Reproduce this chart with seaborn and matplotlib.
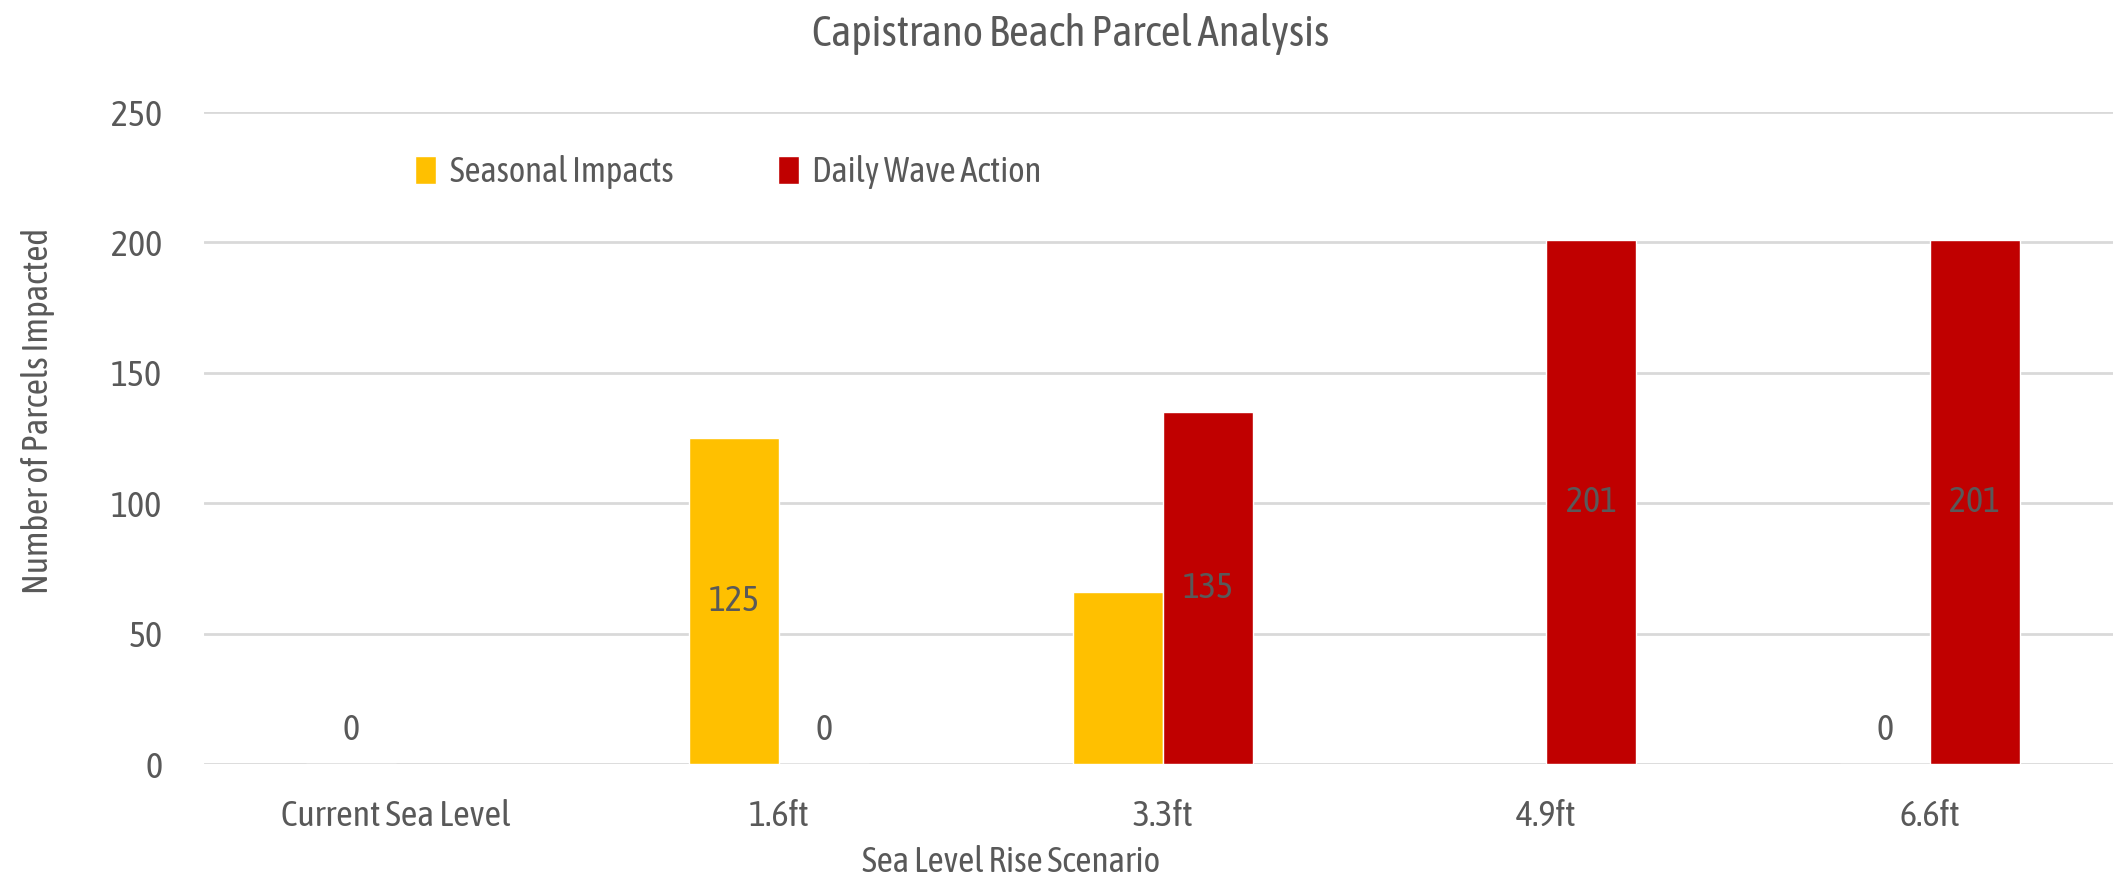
import matplotlib
matplotlib.use("Agg")
import matplotlib.pyplot as plt
from matplotlib import font_manager
import seaborn as sns
import pandas as pd
import numpy as np

# data
scenarios = ["Current Sea Level", "1.6ft", "3.3ft", "4.9ft", "6.6ft"]
seasonal = [0, 125, 66, np.nan, 0]
daily_wave = [np.nan, 0, 135, 201, 201]
seasonal_labels = ["0", "125", "", "", "0"]
wave_labels = ["", "0", "135", "201", "201"]
series_names = ["Seasonal Impacts", "Daily Wave Action"]
yticks = [0, 50, 100, 150, 200, 250]

YELLOW = "#FFC000"
RED = "#C00000"
TXT = "#595959"
GRID = "#D9D9D9"

sns.set_theme(style="white")
installed = {f.name for f in font_manager.fontManager.ttflist}
if "Asap Condensed" in installed:
    plt.rcParams["font.family"] = ["Asap Condensed", "DejaVu Sans"]
else:
    plt.rcParams["font.family"] = ["DejaVu Sans"]
    plt.rcParams["font.stretch"] = "condensed"

FS = 26

df = pd.DataFrame({
    "Scenario": scenarios * 2,
    "Series": [series_names[0]] * 5 + [series_names[1]] * 5,
    "Parcels": seasonal + daily_wave,
})

fig = plt.figure(figsize=(21.13, 8.81), dpi=100)
ax = fig.add_axes([204 / 2113, 117 / 881, 1 - 204 / 2113, 652 / 881])

sns.barplot(data=df, x="Scenario", y="Parcels", hue="Series", order=scenarios,
            hue_order=series_names, palette=[YELLOW, RED], width=0.47,
            gap=0, saturation=1, ax=ax, legend=True)

ax.set_xlim(-0.5, 4.478)
ax.set_ylim(0, 250)
ax.set_yticks(yticks)
ax.yaxis.grid(True, color=GRID, linewidth=2)
ax.set_axisbelow(True)
for s in ax.spines.values():
    s.set_visible(False)
ax.tick_params(axis="y", length=0, pad=30, labelsize=FS, labelcolor=TXT)
ax.tick_params(axis="x", length=0, pad=25, labelsize=FS, labelcolor=TXT)

# data labels
lab_map = {series_names[0]: seasonal_labels, series_names[1]: wave_labels}
for cont, name in zip(ax.containers, series_names):
    for bar in cont:
        h = bar.get_height()
        if np.isnan(h):
            continue
        xc = bar.get_x() + bar.get_width() / 2
        idx = int(round(xc))
        txt = lab_map[name][idx]
        if not txt:
            continue
        if h == 0:
            ax.annotate(txt, (xc, 0), xytext=(0, 24.5), textcoords="offset points",
                        ha="center", va="center", fontsize=FS, color=TXT)
        else:
            ax.text(xc, h / 2, txt, ha="center", va="center", fontsize=FS, color=TXT)

ax.set_xlabel("Sea Level Rise Scenario", fontsize=25.5, color=TXT, va="center")
ax.set_ylabel("Number of Parcels Impacted", fontsize=25.5, color=TXT, va="center")
ax.xaxis.set_label_coords((1011 - 204) / 1909, (764 - 862) / 652)
ax.yaxis.set_label_coords((38 - 204) / 1909, (764 - 411) / 652)

ax.legend(loc="center left", bbox_to_anchor=(180 / 1909, (764 - 172) / 652),
          ncol=2, frameon=False, fontsize=25, handlelength=0.6, handleheight=0.9,
          handletextpad=0.4, columnspacing=3.0, labelcolor=TXT)

fig.text(1071 / 2113, 1 - 34 / 881, "Capistrano Beach Parcel Analysis",
         ha="center", va="center", fontsize=31, color=TXT)

fig.savefig("out.png", dpi=100)
